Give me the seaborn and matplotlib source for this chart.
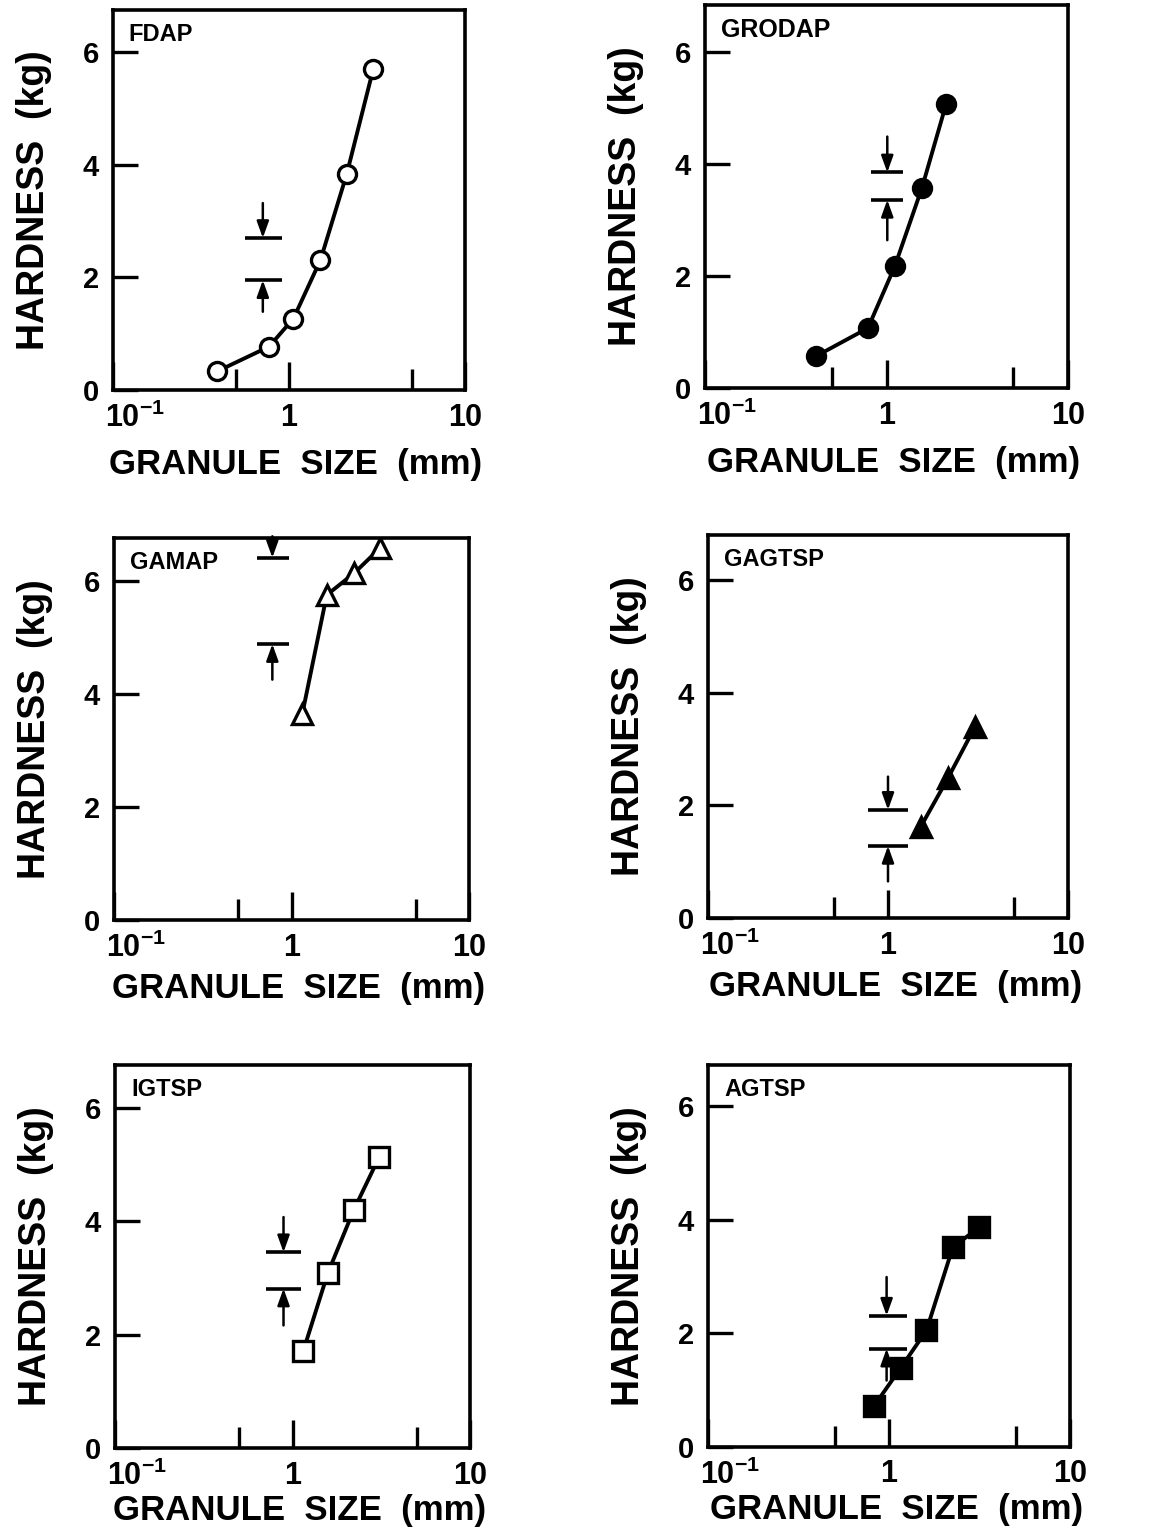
import numpy as np
import pandas as pd
import seaborn as sns
import matplotlib
matplotlib.use("Agg")
import matplotlib.pyplot as plt
import matplotlib.transforms as mtransforms
from matplotlib.ticker import FixedLocator, NullFormatter

# ---- data ----
names = ["FDAP", "GRODAP", "GAMAP", "GAGTSP", "IGTSP", "AGTSP"]

fdap_size = [0.39, 0.77, 1.06, 1.51, 2.13, 3.01]
fdap_hard = [0.33, 0.77, 1.27, 2.31, 3.84, 5.70]

grodap_size = [0.41, 0.79, 1.11, 1.57, 2.13]
grodap_hard = [0.57, 1.07, 2.17, 3.58, 5.07]

gamap_size = [1.15, 1.58, 2.26, 3.15]
gamap_hard = [3.65, 5.76, 6.15, 6.59]

gagtsp_size = [1.52, 2.15, 3.05]
gagtsp_hard = [1.62, 2.48, 3.40]

igtsp_size = [1.15, 1.58, 2.21, 3.07]
igtsp_hard = [1.71, 3.08, 4.19, 5.12]

agtsp_size = [0.83, 1.16, 1.61, 2.25, 3.16]
agtsp_hard = [0.73, 1.39, 2.05, 3.51, 3.87]

# range bars with arrows: x position, left/right of bars, upper/lower bar, arrow starts
band_x = [0.71, 1.01, 0.78, 1.00, 0.89, 0.97]
band_left = [0.56, 0.82, 0.64, 0.77, 0.71, 0.78]
band_right = [0.91, 1.23, 0.97, 1.29, 1.12, 1.25]
band_hi = [2.70, 3.85, 6.42, 1.92, 3.45, 2.31]
band_lo = [1.95, 3.36, 4.89, 1.28, 2.81, 1.73]
arrow_top = [3.32, 4.49, 6.80, 2.51, 4.07, 2.99]
arrow_bottom = [1.39, 2.64, 4.26, 0.65, 2.16, 1.17]

sizes = [fdap_size, grodap_size, gamap_size, gagtsp_size, igtsp_size, agtsp_size]
hards = [fdap_hard, grodap_hard, gamap_hard, gagtsp_hard, igtsp_hard, agtsp_hard]
markers = ["o", "o", "^", "^", "s", "s"]
filled = [False, True, False, True, False, True]

y_ticks = [0, 2, 4, 6]
x_major = [0.1, 1, 10]
x_labels = ["$10^{-1}$", "1", "10"]
x_minor = [0.5, 5]

sns.set_style("ticks")
plt.rcParams["font.family"] = ["Liberation Sans", "DejaVu Sans"]
plt.rcParams["font.weight"] = "bold"
plt.rcParams["mathtext.fontset"] = "custom"
plt.rcParams["mathtext.rm"] = "Liberation Sans:bold"
plt.rcParams["mathtext.it"] = "Liberation Sans:bold"
plt.rcParams["mathtext.bf"] = "Liberation Sans:bold"
for key in ["text.color", "axes.labelcolor", "axes.edgecolor", "xtick.color", "ytick.color"]:
    plt.rcParams[key] = "black"

W, H = 1150, 1537
fig = plt.figure(figsize=(W / 100, H / 100), dpi=100)

# axes boxes in pixels: left, right, top, bottom
boxes = [(113, 465, 10, 390), (705, 1068, 5, 388),
         (114, 469, 538, 920), (708, 1068, 535, 918),
         (115, 470, 1065, 1448), (708, 1070, 1065, 1447)]
y_tops = [6.75, 6.84, 6.77, 6.80, 6.75, 6.72]
title_sizes = [17, 18, 17, 17, 17, 17]
xlabel_gap = [58, 58, 52, 52, 46, 46]  # pixels from bottom spine to label top

for i, name in enumerate(names):
    l, r, t, b = boxes[i]
    ax = fig.add_axes([l / W, 1 - b / H, (r - l) / W, (b - t) / H])
    df = pd.DataFrame({"size": sizes[i], "hardness": hards[i]})
    ms = 13 if markers[i] == "o" else 14
    sns.lineplot(data=df, x="size", y="hardness", ax=ax, color="black",
                 linewidth=2.8, marker=markers[i], markersize=ms,
                 markerfacecolor="black" if filled[i] else "white",
                 markeredgecolor="black", markeredgewidth=2.4, sort=False)
    ax.set_xscale("log")
    ax.set_xlim(0.1, 10)
    ax.set_ylim(0, y_tops[i])

    ax.hlines([band_hi[i], band_lo[i]], band_left[i], band_right[i],
              color="black", linewidth=2.6)
    ax.annotate("", xy=(band_x[i], band_hi[i]), xytext=(band_x[i], arrow_top[i]),
                arrowprops=dict(arrowstyle="-|>,head_length=0.5,head_width=0.18",
                                color="black", lw=1.8, mutation_scale=20,
                                shrinkA=0, shrinkB=0),
                annotation_clip=False)
    ax.annotate("", xy=(band_x[i], band_lo[i]), xytext=(band_x[i], arrow_bottom[i]),
                arrowprops=dict(arrowstyle="-|>,head_length=0.5,head_width=0.18",
                                color="black", lw=1.8, mutation_scale=20,
                                shrinkA=0, shrinkB=0))

    ax.xaxis.set_major_locator(FixedLocator(x_major))
    ax.set_xticklabels(x_labels)
    ax.xaxis.set_minor_locator(FixedLocator(x_minor))
    ax.xaxis.set_minor_formatter(NullFormatter())
    ax.set_yticks(y_ticks)
    ax.set_yticklabels([str(v) for v in y_ticks])

    ax.tick_params(axis="x", which="major", direction="in", length=20, width=2.4,
                   labelsize=22, pad=9)
    ax.tick_params(axis="x", which="minor", direction="in", length=15, width=2.4)
    ax.tick_params(axis="y", direction="in", length=18, width=2.4,
                   labelsize=21, pad=10)
    for lab in ax.get_xticklabels() + ax.get_yticklabels():
        lab.set_fontweight("bold")
    # the 10^-1 label starts near the axis corner in the original
    first = ax.get_xticklabels()[0]
    first.set_horizontalalignment("left")
    first.set_transform(first.get_transform() +
                        mtransforms.ScaledTranslation(-6 / 72, 0, fig.dpi_scale_trans))
    for sp in ax.spines.values():
        sp.set_linewidth(2.6)
        sp.set_visible(True)

    ax.set_xlabel("GRANULE  SIZE  (mm)", fontsize=25, fontweight="bold")
    ax.xaxis.set_label_coords(0.52, -xlabel_gap[i] / (b - t))
    ax.set_ylabel("HARDNESS  (kg)", fontsize=27, fontweight="bold", labelpad=22)
    ax.text(0.045, 0.935, name, transform=ax.transAxes, fontsize=title_sizes[i],
            fontweight="bold", ha="left", va="center")

fig.savefig("out.png", dpi=100)
